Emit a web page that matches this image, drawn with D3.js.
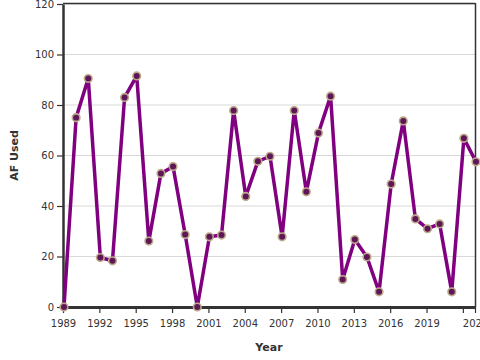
<!DOCTYPE html>
<html>
<head>
<meta charset="utf-8">
<script src="https://cdn.jsdelivr.net/npm/d3@7"></script>
<style>
  html, body { margin: 0; padding: 0; background: #fff; }
  svg { display: block; font-family: "DejaVu Sans", sans-serif; }
</style>
</head>
<body>
<svg id="chart" width="480" height="360"></svg>
<script>
const years = [1989,1990,1991,1992,1993,1994,1995,1996,1997,1998,1999,2000,2001,2002,2003,2004,2005,2006,2007,2008,2009,2010,2011,2012,2013,2014,2015,2016,2017,2018,2019,2020,2021,2022,2023];
const afUsed = [0,75,90.5,19.6,18.3,83,91.5,26.1,52.9,55.6,28.7,0,27.8,28.5,77.8,43.8,57.7,59.7,27.8,77.8,45.6,68.9,83.5,10.9,26.7,19.8,6,48.7,73.7,34.9,31,32.9,6,66.8,57.5];
const xTickValues = [1989,1992,1995,1998,2001,2004,2007,2010,2013,2016,2019,2022,2023];
const xTickLabels = ["1989","1992","1995","1998","2001","2004","2007","2010","2013","2016","2019","","2023"];
const yTickValues = [0,20,40,60,80,100,120];
const xTitle = "Year";
const yTitle = "AF Used";

const W = 480, H = 360;
const m = {left: 63, top: 4, right: 5, bottom: 53};
const svg = d3.select("#chart");
const x = d3.scaleLinear().domain([1989, 2023]).range([m.left, W - m.right]);
const y = d3.scaleLinear().domain([0, 120]).range([H - m.bottom, m.top]);

// gridlines
svg.append("g").selectAll("line").data(yTickValues.filter(d => d > 0)).join("line")
  .attr("x1", m.left).attr("x2", W - m.right)
  .attr("y1", d => y(d)).attr("y2", d => y(d))
  .attr("stroke", "#d9d9d9").attr("stroke-width", 1);

// frame top/right
svg.append("line").attr("x1", m.left).attr("x2", W - m.right).attr("y1", m.top - 0.5).attr("y2", m.top - 0.5)
  .attr("stroke", "#333").attr("stroke-width", 1.5);
svg.append("line").attr("x1", W - m.right + 0.5).attr("x2", W - m.right + 0.5).attr("y1", m.top - 1).attr("y2", H - m.bottom)
  .attr("stroke", "#333").attr("stroke-width", 1.5);

// axes
const xAxis = d3.axisBottom(x).tickValues(xTickValues)
  .tickFormat((d, i) => xTickLabels[i]).tickSize(6).tickPadding(7).tickSizeOuter(0);
const gx = svg.append("g").attr("transform", `translate(0,${H - m.bottom})`).call(xAxis);
gx.select(".domain").attr("stroke", "#333").attr("stroke-width", 3);
gx.selectAll(".tick line").attr("stroke", "#333").attr("stroke-width", 1.2);
gx.selectAll("text").attr("fill", "#333").attr("font-size", 10).attr("font-family", "DejaVu Sans, sans-serif");

const yAxis = d3.axisLeft(y).tickValues(yTickValues).tickSize(6).tickPadding(3).tickSizeOuter(0);
const gy = svg.append("g").attr("transform", `translate(${m.left},0)`).call(yAxis);
gy.select(".domain").attr("stroke", "#333").attr("stroke-width", 2.5);
gy.selectAll(".tick line").attr("stroke", "#333").attr("stroke-width", 1.2);
gy.selectAll("text").attr("fill", "#333").attr("font-size", 10).attr("font-family", "DejaVu Sans, sans-serif");

// titles
svg.append("text").attr("x", (m.left + W - m.right) / 2).attr("y", 351)
  .attr("text-anchor", "middle").attr("font-size", 11).attr("font-weight", "bold").attr("fill", "#333")
  .text(xTitle);
svg.append("text").attr("transform", `translate(18,${(m.top + H - m.bottom) / 2}) rotate(-90)`)
  .attr("text-anchor", "middle").attr("font-size", 11).attr("font-weight", "bold").attr("fill", "#333")
  .text(yTitle);

// line
const data = years.map((yr, i) => ({yr, v: afUsed[i]}));
svg.append("path").datum(data)
  .attr("fill", "none").attr("stroke", "#800080").attr("stroke-width", 3.5).attr("stroke-linejoin", "round")
  .attr("d", d3.line().x(d => x(d.yr) + 1).y(d => y(d.v)));

svg.append("g").selectAll("circle").data(data).join("circle")
  .attr("cx", d => x(d.yr) + 1).attr("cy", d => y(d.v)).attr("r", 3.8)
  .attr("fill", "#5e1656").attr("stroke", "#bba98a").attr("stroke-width", 1.6);
</script>
</body>
</html>
